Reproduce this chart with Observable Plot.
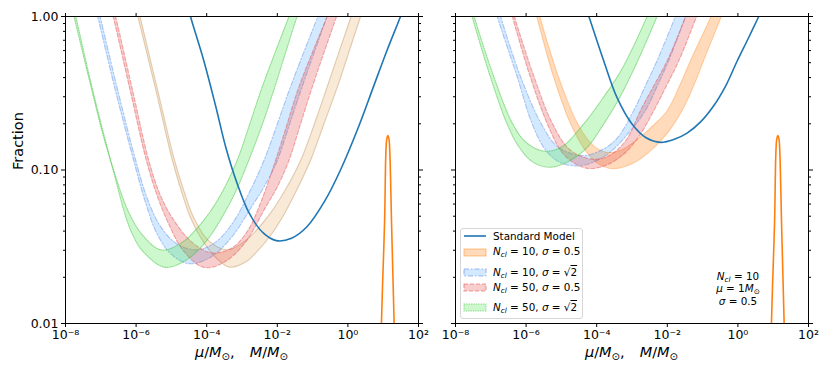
<!DOCTYPE html>
<html><head><meta charset="utf-8">
<script src="https://cdn.jsdelivr.net/npm/d3@7"></script>
<script src="https://cdn.jsdelivr.net/npm/@observablehq/plot@0.6"></script>
<style>
body{margin:0;background:#fff;font-family:"DejaVu Sans",sans-serif;}
#wrap{position:relative;width:830px;height:378px;overflow:hidden;background:#fff;}
#wrap svg{position:absolute;left:0;top:0;}
.t{position:absolute;white-space:nowrap;line-height:1;color:#000;font-family:"DejaVu Sans",sans-serif;}
.t sub{font-size:0.7em;vertical-align:-0.25em;line-height:0;}
.ol{text-decoration:overline;}
</style></head><body><div id="wrap"></div>
<script>
// ---- axis ticks ----
const xTicks = [1e-8, 1e-6, 1e-4, 1e-2, 1, 1e2];
const yMajor = [0.01, 0.1, 1];
const yMinor = [0.02,0.03,0.04,0.05,0.06,0.07,0.08,0.09,0.2,0.3,0.4,0.5,0.6,0.7,0.8,0.9];

// ---- curves as [log10(M/Msun), log10(Fraction)] ----
// Left panel
const L_std = [[-4.55,0.08],[-4.46,0],[-4.08,-0.29],[-3.75,-0.58],[-3.45,-0.86],[-3.15,-1.08],[-2.80,-1.28],[-2.40,-1.41],[-2.03,-1.46],[-1.60,-1.445],[-1.16,-1.37],[-0.65,-1.20],[-0.21,-1.00],[0.30,-0.72],[0.72,-0.46],[1.11,-0.22],[1.49,0],[1.60,0.07]];
const L_n10s05_lo = [[-6.04,0.08],[-5.95,0],[-5.45,-0.47],[-4.98,-0.93],[-4.70,-1.15],[-4.46,-1.31],[-4.09,-1.47],[-3.70,-1.58],[-3.35,-1.633],[-2.90,-1.60],[-2.57,-1.53],[-2.20,-1.43],[-1.86,-1.31],[-1.45,-1.13],[-1.06,-0.938],[-0.68,-0.70],[-0.30,-0.46],[0.36,0],[0.47,0.07]];
const L_n10s05_hi = [[-5.98,0.08],[-5.89,0],[-5.40,-0.47],[-4.92,-0.93],[-4.64,-1.14],[-4.37,-1.31],[-3.95,-1.46],[-3.40,-1.52],[-2.90,-1.46],[-2.29,-1.31],[-1.80,-1.14],[-1.34,-0.938],[-0.95,-0.70],[-0.59,-0.46],[0.09,0],[0.20,0.07]];
const L_n10sr2_lo = [[-7.18,0.08],[-7.09,0],[-6.60,-0.47],[-6.07,-0.938],[-5.75,-1.20],[-5.40,-1.42],[-5.00,-1.55],[-4.50,-1.61],[-3.90,-1.57],[-3.30,-1.44],[-2.70,-1.23],[-2.35,-1.10],[-2.00,-0.938],[-1.65,-0.70],[-1.30,-0.46],[-0.59,0],[-0.48,0.07]];
const L_n10sr2_hi = [[-7.11,0.08],[-7.02,0],[-6.53,-0.47],[-6.01,-0.938],[-5.69,-1.18],[-5.33,-1.36],[-4.85,-1.48],[-4.27,-1.52],[-3.75,-1.47],[-3.25,-1.34],[-2.80,-1.15],[-2.38,-0.938],[-2.00,-0.70],[-1.63,-0.46],[-0.85,0],[-0.74,0.06]];
const L_n50s05_lo = [[-6.74,0.08],[-6.65,0],[-6.18,-0.47],[-5.71,-0.938],[-5.40,-1.17],[-5.10,-1.34],[-4.65,-1.53],[-4.07,-1.635],[-3.50,-1.60],[-2.90,-1.47],[-2.35,-1.25],[-2.00,-1.11],[-1.67,-0.938],[-1.34,-0.70],[-1.01,-0.46],[-0.32,0],[-0.21,0.07]];
const L_n50s05_hi = [[-6.67,0.08],[-6.58,0],[-6.11,-0.47],[-5.64,-0.938],[-5.32,-1.16],[-4.98,-1.31],[-4.42,-1.47],[-3.85,-1.54],[-3.30,-1.51],[-2.85,-1.40],[-2.45,-1.20],[-2.05,-0.938],[-1.72,-0.70],[-1.39,-0.46],[-0.59,0],[-0.49,0.06]];
const L_n50sr2_lo = [[-7.85,0.08],[-7.76,0],[-7.34,-0.40],[-6.95,-0.76],[-6.70,-0.96],[-6.30,-1.30],[-6.11,-1.416],[-5.83,-1.524],[-5.20,-1.633],[-4.60,-1.59],[-4.00,-1.46],[-3.40,-1.24],[-3.10,-1.10],[-2.81,-0.938],[-2.45,-0.72],[-2.10,-0.48],[-1.44,0],[-1.33,0.07]];
const L_n50sr2_hi = [[-7.80,0.08],[-7.71,0],[-7.29,-0.42],[-6.90,-0.78],[-6.65,-0.99],[-6.22,-1.27],[-5.83,-1.42],[-5.30,-1.52],[-4.75,-1.48],[-4.20,-1.36],[-3.65,-1.18],[-3.14,-0.938],[-2.78,-0.70],[-2.43,-0.46],[-1.67,0],[-1.57,0.06]];
// Right panel
const R_std = [[-4.32,0.07],[-4.22,0],[-3.80,-0.29],[-3.42,-0.53],[-3.00,-0.70],[-2.60,-0.79],[-2.19,-0.82],[-1.80,-0.80],[-1.44,-0.76],[-1.05,-0.685],[-0.68,-0.58],[-0.33,-0.445],[-0.02,-0.29],[0.30,-0.14],[0.59,0],[0.72,0.06]];
const R_n10s05_lo = [[-5.80,0.08],[-5.70,0],[-5.22,-0.395],[-4.74,-0.699],[-4.30,-0.88],[-3.95,-0.96],[-3.56,-0.992],[-3.00,-0.96],[-2.45,-0.87],[-2.00,-0.76],[-1.58,-0.612],[-1.25,-0.45],[-0.97,-0.287],[-0.47,0],[-0.35,0.07]];
const R_n10s05_hi = [[-5.70,0.08],[-5.61,0],[-5.08,-0.395],[-4.54,-0.699],[-4.10,-0.84],[-3.72,-0.885],[-3.30,-0.87],[-2.85,-0.80],[-2.40,-0.71],[-2.00,-0.612],[-1.65,-0.45],[-1.34,-0.287],[-0.76,0],[-0.64,0.06]];
const R_n10sr2_lo = [[-6.92,0.08],[-6.82,0],[-6.25,-0.395],[-5.83,-0.699],[-5.45,-0.87],[-5.05,-0.95],[-4.58,-0.973],[-4.10,-0.95],[-3.60,-0.88],[-3.10,-0.76],[-2.62,-0.612],[-2.28,-0.45],[-1.96,-0.287],[-1.48,0],[-1.36,0.07]];
const R_n10sr2_hi = [[-6.81,0.08],[-6.72,0],[-6.15,-0.395],[-5.57,-0.699],[-5.10,-0.85],[-4.46,-0.906],[-3.95,-0.88],[-3.45,-0.80],[-2.95,-0.612],[-2.62,-0.45],[-2.29,-0.287],[-1.77,0],[-1.65,0.07]];
const R_n50s05_lo = [[-6.48,0.08],[-6.39,0],[-5.88,-0.395],[-5.40,-0.699],[-5.00,-0.88],[-4.60,-0.96],[-4.22,-0.99],[-3.75,-0.97],[-3.25,-0.90],[-2.80,-0.78],[-2.38,-0.612],[-2.02,-0.45],[-1.67,-0.287],[-1.17,0],[-1.05,0.07]];
const R_n50s05_hi = [[-6.42,0.08],[-6.33,0],[-5.77,-0.395],[-5.25,-0.699],[-4.75,-0.87],[-4.10,-0.93],[-3.60,-0.90],[-3.15,-0.80],[-2.76,-0.612],[-2.38,-0.45],[-2.00,-0.287],[-1.48,0],[-1.36,0.07]];
const R_n50sr2_lo = [[-7.62,0.08],[-7.53,0],[-7.01,-0.395],[-6.54,-0.699],[-6.20,-0.85],[-5.80,-0.95],[-5.33,-0.982],[-4.85,-0.95],[-4.30,-0.86],[-3.80,-0.70],[-3.33,-0.52],[-2.80,-0.27],[-2.29,0],[-2.18,0.06]];
const R_n50sr2_hi = [[-7.56,0.08],[-7.47,0],[-6.91,-0.395],[-6.38,-0.699],[-6.00,-0.82],[-5.50,-0.877],[-5.00,-0.85],[-4.37,-0.70],[-3.85,-0.54],[-3.33,-0.36],[-2.95,-0.19],[-2.57,0],[-2.46,0.05]];
// Cluster mass distribution (both panels)
const clusterPdf = [[0.94,-2.1],[0.95,-2.0],[0.98,-1.76],[1.04,-1.33],[1.074,-0.90],[1.10,-0.80],[1.133,-0.775],[1.165,-0.80],[1.19,-0.90],[1.235,-1.33],[1.283,-1.76],[1.31,-2.0],[1.32,-2.1]];

const legendLabels = [
  "Standard Model",
  "<i>N</i><sub><i>cl</i></sub> = 10, <i>σ</i> = 0.5",
  "<i>N</i><sub><i>cl</i></sub> = 10, <i>σ</i> = √<span class='ol'>2</span>",
  "<i>N</i><sub><i>cl</i></sub> = 50, <i>σ</i> = 0.5",
  "<i>N</i><sub><i>cl</i></sub> = 50, <i>σ</i> = √<span class='ol'>2</span>"
];
const annotLines = ["<i>N</i><sub><i>cl</i></sub> = 10", "<i>μ</i> = 1<i>M</i><sub>⊙</sub>", "<i>σ</i> = 0.5"];
const xLabel = "<i>μ</i>/<i>M</i><sub>⊙</sub>,<span style='display:inline-block;width:15px'></span><i>M</i>/<i>M</i><sub>⊙</sub>";

// ---- styles ----
const ST = {
  o_left: {fill:"#e8b070", fo:0.28, edge:"#c8a070", eo:0.5, dash:null},
  o_right:{fill:"#ff7f0e", fo:0.28, edge:"#ff7f0e", eo:0.32, dash:null},
  b:      {fill:"#1e90ff", fo:0.20, edge:"#5080e0", eo:0.42, dash:"5,2,1.5,2"},
  r:      {fill:"#e03c3c", fo:0.26, edge:"#e85a5a", eo:0.5, dash:"4,2"},
  g:      {fill:"#2ee02e", fo:0.24, edge:"#40c040", eo:0.5, dash:"1.2,1.2"}
};

const toPts = a => a.map(([lx, ly]) => ({x: 10 ** lx, y: 10 ** ly}));

function band(lo, hi, s) {
  const P = toPts(lo), Q = toPts(hi);
  const poly = P.concat(Q.slice().reverse());
  const eo = {x:"x", y:"y", stroke:s.edge, strokeOpacity:s.eo, strokeWidth:1.1, curve:"catmull-rom", clip:true};
  if (s.dash) eo.strokeDasharray = s.dash;
  return [
    Plot.line(poly, {x:"x", y:"y", fill:s.fill, fillOpacity:s.fo, stroke:"none", curve:"catmull-rom", clip:true}),
    Plot.line(P, eo),
    Plot.line(Q, eo)
  ];
}

const supMap = {"-":"⁻","0":"⁰","1":"¹","2":"²","3":"³","4":"⁴","5":"⁵","6":"⁶","7":"⁷","8":"⁸","9":"⁹"};
const supFmt = d => "10" + String(Math.round(Math.log10(d))).split("").map(c => supMap[c]).join("");
const blank = () => "";

function panel(cfg) {
  return Plot.plot({
    width: 830, height: 378,
    marginLeft: cfg.ml, marginRight: cfg.mr, marginTop: 16, marginBottom: 55,
    x: {type: "log", domain: [1e-8, 1e2]},
    y: {type: "log", domain: [0.01, 1]},
    style: {background: "transparent", fontFamily: "DejaVu Sans", fontSize: "12.5px", color: "black", overflow: "visible"},
    marks: [
      ...band(cfg.o[0], cfg.o[1], cfg.oStyle),
      ...band(cfg.b[0], cfg.b[1], ST.b),
      ...band(cfg.r[0], cfg.r[1], ST.r),
      ...band(cfg.g[0], cfg.g[1], ST.g),
      Plot.line(toPts(cfg.std), {x:"x", y:"y", stroke:"#1f77b4", strokeWidth:1.6, curve:"catmull-rom", clip:true}),
      Plot.line(toPts(clusterPdf), {x:"x", y:"y", stroke:"#ff7f0e", strokeWidth:1.6, curve:"catmull-rom", clip:true}),
      Plot.axisX({anchor:"bottom", ticks:xTicks, tickFormat:supFmt, tickSize:4, tickPadding:3, label:null}),
      Plot.axisX({anchor:"top", ticks:xTicks, tickFormat:blank, tickSize:4, label:null}),
      Plot.axisY({anchor:"left", ticks:yMajor, tickFormat: cfg.ylabels ? d3.format(".2f") : blank, tickSize:4, tickPadding:3, label:null}),
      Plot.axisY({anchor:"left", ticks:yMinor, tickFormat:blank, tickSize:2, label:null}),
      Plot.axisY({anchor:"right", ticks:yMajor, tickFormat:blank, tickSize:4, label:null}),
      Plot.axisY({anchor:"right", ticks:yMinor, tickFormat:blank, tickSize:2, label:null}),
      Plot.frame({stroke:"black", strokeWidth:1}),
      ...(cfg.ylabels ? [Plot.text(["Fraction"], {frameAnchor:"left", text:d => d, rotate:-90, dx:-47, fontSize:14.5})] : [])
    ]
  });
}

const wrap = document.getElementById("wrap");
wrap.appendChild(panel({ml:65, mr:412, ylabels:true, std:L_std, oStyle:ST.o_left,
  o:[L_n10s05_lo, L_n10s05_hi], b:[L_n10sr2_lo, L_n10sr2_hi], r:[L_n50s05_lo, L_n50s05_hi], g:[L_n50sr2_lo, L_n50sr2_hi]}));
wrap.appendChild(panel({ml:455, mr:22, ylabels:false, std:R_std, oStyle:ST.o_right,
  o:[R_n10s05_lo, R_n10s05_hi], b:[R_n10sr2_lo, R_n10sr2_hi], r:[R_n50s05_lo, R_n50s05_hi], g:[R_n50sr2_lo, R_n50sr2_hi]}));

function addDiv(html, css) {
  const d = document.createElement("div");
  d.className = "t";
  d.innerHTML = html;
  Object.assign(d.style, css);
  wrap.appendChild(d);
  return d;
}

// x-axis labels
[241.5, 631.5].forEach(cx => addDiv(xLabel, {left:(cx-110)+"px", width:"220px", textAlign:"center", top:"345px", fontSize:"14.5px"}));

// legend box
const box = document.createElement("div");
Object.assign(box.style, {position:"absolute", left:"460px", top:"228px", width:"121px", height:"89px",
  border:"1px solid #d6d6d6", borderRadius:"3px", background:"rgba(255,255,255,0.8)"});
wrap.appendChild(box);
const rowY = [236.7, 252, 272.5, 287.7, 307.7];
const swatchStyles = [null, ST.o_right, ST.b, ST.r, ST.g];
legendLabels.forEach((lab, i) => {
  const cy = rowY[i];
  const s = swatchStyles[i];
  let svg;
  if (!s) {
    svg = `<svg width="24" height="8"><line x1="1" y1="4" x2="23" y2="4" stroke="#1f77b4" stroke-width="1.6"/></svg>`;
  } else {
    svg = `<svg width="24" height="9"><rect x="1" y="1" width="22" height="7" fill="${s.fill}" fill-opacity="${s.fo}" stroke="${s.edge}" stroke-opacity="${s.eo+0.1}" stroke-width="1.1" ${s.dash ? `stroke-dasharray="${s.dash}"` : ""}/></svg>`;
  }
  addDiv(svg, {left:"463px", top:(cy-4.5)+"px", lineHeight:"0"});
  addDiv(lab, {left:"493px", top:(cy-6)+"px", fontSize:"10.4px"});
});

// annotation (three centred lines)
annotLines.forEach((ln, i) => addDiv(ln, {left:"698px", width:"80px", textAlign:"center", top:(271 + i*12.4)+"px", fontSize:"10.4px"}));
</script></body></html>
